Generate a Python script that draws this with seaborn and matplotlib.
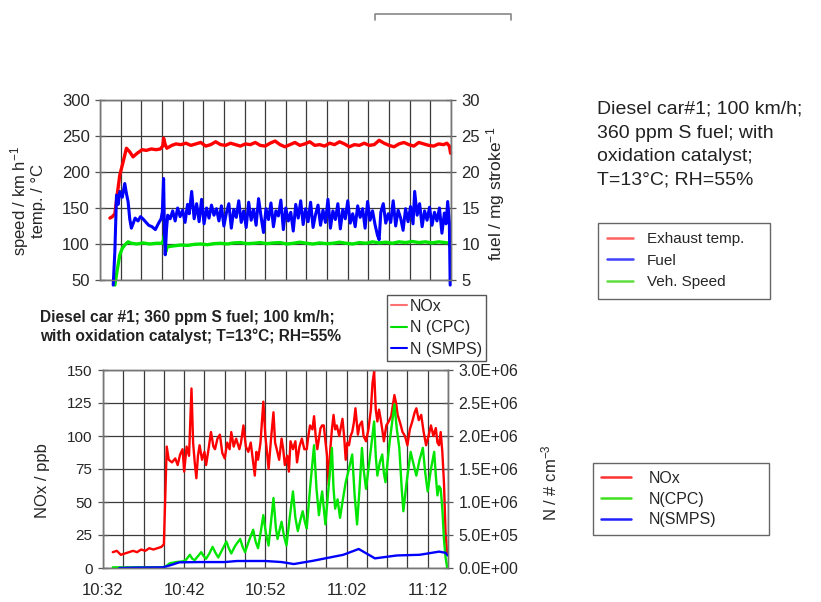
import numpy as np
import seaborn as sns
import matplotlib.pyplot as plt
from matplotlib.ticker import MultipleLocator, FuncFormatter
from matplotlib.lines import Line2D

# ---- top panel: minutes after 10:32 ----
temp_t = [1.2, 1.5, 1.8, 2.1, 2.4, 2.8, 3.2, 3.6, 4.0, 4.5, 5.1, 5.6, 6.2, 6.8, 7.3, 7.6, 7.7, 7.9, 8.1, 8.7,
          9.2, 9.8, 10.4, 11.0, 11.6, 12.2, 12.8, 13.4, 14.0, 14.6, 15.2, 15.8, 16.4, 17.0, 17.6, 18.2, 18.8,
          19.4, 20.0, 20.6, 21.2, 21.8, 22.4, 23.0, 23.6, 24.2, 24.8, 25.4, 26.0, 26.6, 27.2, 27.8, 28.4, 29.0,
          29.6, 30.2, 30.8, 31.4, 32.0, 32.6, 33.2, 33.8, 34.4, 35.0, 35.6, 36.2, 36.8, 37.4, 38.0, 38.6, 39.2,
          39.8, 40.4, 41.0, 41.6, 42.0, 42.3, 42.45]
temp_v = [136, 138, 142, 170, 196, 214, 233, 228, 221, 226, 231, 230, 232, 231, 232, 236, 247, 238, 233, 237,
          239, 238, 240, 237, 239, 241, 236, 238, 242, 238, 237, 240, 238, 236, 239, 238, 241,
          237, 236, 240, 243, 238, 235, 238, 241, 237, 239, 242, 237, 238, 236, 240, 238, 242,
          239, 235, 238, 237, 240, 237, 238, 244, 240, 237, 235, 239, 241, 238, 236, 241, 239,
          237, 236, 239, 238, 240, 236, 226]

fuel_t = [1.6, 1.8, 2.0, 2.2, 2.4, 2.7, 3.0, 3.2, 3.4, 3.6, 3.8, 4.0, 4.25, 4.6, 4.9, 5.2, 5.5, 5.9, 6.3, 6.7,
          7.1, 7.4, 7.55, 7.7, 7.8, 7.9, 8.05, 8.2, 8.5, 8.8, 9.1, 9.4, 9.7, 10.0, 10.3, 10.6, 10.8, 11.1,
          11.4, 11.7, 12.0, 12.3, 12.6, 12.9, 13.2, 13.5, 13.8, 14.1, 14.4, 14.7, 15.0, 15.3, 15.6, 15.9,
          16.2, 16.5, 16.8, 17.1, 17.4, 17.7, 18.0, 18.3, 18.6, 18.9, 19.2, 19.5, 19.8, 20.1, 20.4, 20.7,
          21.0, 21.3, 21.6, 21.9, 22.2, 22.5, 22.8, 23.1, 23.4, 23.7, 24.0, 24.3, 24.6, 24.9, 25.2, 25.5,
          25.8, 26.1, 26.4, 26.7, 27.0, 27.3, 27.6, 27.9, 28.2, 28.5, 28.8, 29.1, 29.4, 29.7, 30.0, 30.3,
          30.6, 30.9, 31.2, 31.5, 31.8, 32.1, 32.4, 32.7, 33.0, 33.3, 33.6, 33.8, 34.0, 34.3, 34.6, 34.9,
          35.2, 35.5, 35.8, 36.1, 36.4, 36.7, 37.0, 37.3, 37.6, 37.9, 38.1, 38.4, 38.7, 39.0, 39.3, 39.6,
          39.9, 40.2, 40.5, 40.8, 41.1, 41.4, 41.7, 41.9, 42.1, 42.3, 42.4]
fuel_v = [4.3, 9.0, 16.8, 15.5, 17.3, 16.5, 18.4, 17.0, 15.9, 13.5, 12.2, 12.8, 13.6, 13.2, 13.8, 13.5, 13.1, 12.6, 12.4, 12.0,
          12.9, 13.5, 14.5, 19.1, 12.0, 8.5, 12.0, 14.0, 13.5, 14.6, 13.2, 15.0, 13.8, 14.7, 13.0, 15.5, 14.2, 17.3,
          13.5, 15.6, 13.1, 16.2, 12.8, 15.0, 13.6, 15.4, 14.0, 14.9, 13.2, 15.3, 12.5, 14.3, 15.6, 12.2,
          14.8, 13.7, 16.0, 13.0, 14.6, 12.3, 15.8, 13.3, 14.8, 12.6, 16.3, 13.8, 11.6, 14.9, 13.4, 15.7,
          12.4, 14.6, 13.9, 16.1, 12.0, 15.0, 13.2, 14.4, 11.8, 15.5, 13.6, 16.0, 12.7, 14.9, 13.1, 15.8,
          12.3, 14.1, 15.4, 12.6, 14.7, 13.0, 16.2, 12.2, 14.6, 13.4, 15.6, 12.1, 14.8, 13.5, 16.0, 12.9,
          14.2, 12.4, 15.3, 13.7, 14.9, 12.2, 15.9, 13.3, 14.6, 12.7, 11.2, 10.6, 14.4, 15.6, 12.9, 14.2,
          13.0, 16.0, 12.5, 14.7, 13.6, 11.9, 14.9, 13.1, 15.2, 12.8, 17.3, 14.0, 15.6, 12.4, 14.6, 13.3,
          15.1, 12.6, 14.4, 13.2, 15.0, 11.5, 14.3, 12.8, 15.9, 13.0, 4.3]

speed_t = [1.8, 2.1, 2.4, 2.7, 3.0, 3.4, 3.8, 4.5, 5.2, 6.0, 6.8, 7.5, 7.7, 7.8, 7.95, 8.1, 8.3, 9.0, 9.8, 10.6,
           11.4, 12.2, 13.0, 13.8, 14.6, 15.4, 16.2, 17.0, 17.8, 18.6, 19.4, 20.2, 21.0, 21.8, 22.6, 23.4,
           24.2, 25.0, 25.8, 26.6, 27.4, 28.2, 29.0, 29.8, 30.6, 31.4, 32.2, 33.0, 33.8, 34.6, 35.4, 36.2,
           37.0, 37.8, 38.6, 39.4, 40.2, 41.0, 41.8, 42.3, 42.45]
speed_v = [43, 65, 85, 94, 98.6, 103, 101, 100, 101.5, 100, 101, 101, 106, 112, 89, 95, 96.3, 97.5, 98.6, 98,
           99.5, 100, 99, 100.5, 101, 100, 101.5, 102, 100.5, 101, 102, 100.5, 101.5, 102, 100, 101,
           102.5, 101, 100, 101.5, 100.5, 101, 102.5, 101, 100, 102, 101, 103, 101.5, 102.5, 101, 103,
           102, 103.5, 102, 103, 101.5, 103, 102, 101, 94]

# ---- bottom panel ----
nox_t = [1.2, 1.7, 2.2, 2.7, 3.2, 3.7, 4.2, 4.7, 5.2, 5.7, 6.2, 6.7, 7.2, 7.5, 7.7, 7.85, 8.1, 8.5, 8.9, 9.2,
         9.5, 9.8, 10.0, 10.3, 10.6, 10.9, 11.1, 11.3, 11.5, 11.7, 11.9, 12.2, 12.5, 12.7, 13.0, 13.3, 13.6,
         13.8, 14.1, 14.4, 14.7, 15.0, 15.3, 15.6, 15.8, 16.1, 16.4, 16.8, 17.0, 17.3, 17.6, 17.9, 18.2,
         18.5, 18.7, 18.9, 19.1, 19.4, 19.75, 20.0, 20.2, 20.4, 20.7, 21.0, 21.2, 21.4, 21.7, 22.0, 22.2,
         22.4, 22.7, 22.9, 23.1, 23.4, 23.7, 23.9, 24.2, 24.5, 24.8, 25.1, 25.3, 25.5, 25.8, 26.0, 26.2,
         26.4, 26.6, 26.8, 27.0, 27.2, 27.4, 27.6, 27.8, 28.0, 28.2, 28.4, 28.6, 28.8, 29.1, 29.5, 29.7,
         29.9, 30.1, 30.3, 30.5, 30.7, 30.9, 31.1, 31.4, 31.6, 31.9, 32.1, 32.4, 32.7, 33.0, 33.2, 33.4,
         33.6, 33.8, 34.0, 34.2, 34.4, 34.6, 34.9, 35.2, 35.5, 35.9, 36.1, 36.3, 36.6, 36.9, 37.2, 37.5,
         37.8, 38.1, 38.4, 38.6, 38.9, 39.2, 39.5, 39.8, 40.1, 40.4, 40.7, 41.0, 41.2, 41.4, 41.6, 41.8,
         42.0, 42.2, 42.4]
nox_v = [12, 13, 10, 11, 12, 13, 12, 14, 13, 15, 14, 15, 16, 18, 60, 92, 82, 80, 83, 78,
         86, 90, 73, 92, 85, 136, 95, 80, 68, 85, 93, 82, 88, 78, 90, 103, 92,
         90, 98, 101, 87, 83, 95, 90, 103, 92, 98, 90, 95, 108, 92, 88, 95,
         80, 70, 88, 82, 95, 126, 100, 88, 75, 98, 118, 95, 90, 82, 98, 90,
         78, 85, 73, 96, 90, 96, 80, 92, 98, 90, 90, 100, 108, 105, 115, 100,
         90, 98, 106, 108, 108, 96, 85, 63, 90, 105, 116, 105, 108, 100, 113, 100,
         82, 95, 93, 100, 103, 110, 121, 101, 108, 111, 100, 96, 105, 120, 140, 149,
         120, 111, 120, 113, 105, 96, 108, 111, 115, 131, 125, 116, 110, 103, 100, 93,
         105, 111, 118, 121, 112, 116, 103, 93, 100, 108, 100, 106, 95, 93, 103, 88,
         65, 27, 10]

cpc_t = [1.2, 3.0, 5.0, 7.4, 7.8, 8.2, 9.0, 9.8, 10.2, 10.7, 11.0, 11.3, 11.7, 12.1, 12.4, 12.7, 13.1, 13.5,
         13.9, 14.2, 14.7, 15.2, 15.5, 15.8, 16.3, 16.9, 17.2, 17.5, 18.0, 18.5, 18.8, 19.1, 19.4, 19.75,
         20.1, 20.4, 20.7, 21.0, 21.3, 21.5, 21.8, 22.0, 22.3, 22.6, 23.0, 23.4, 23.7, 24.0, 24.3, 24.6,
         24.9, 25.1, 25.5, 26.0, 26.3, 26.6, 26.8, 27.0, 27.2, 27.4, 27.8, 28.2, 28.4, 28.6, 28.9, 29.2,
         29.5, 29.9, 30.3, 30.7, 31.0, 31.3, 31.6, 31.9, 32.1, 32.4, 32.9, 33.4, 33.6, 33.8, 34.1, 34.4,
         34.6, 34.8, 35.3, 35.9, 36.2, 36.5, 36.8, 37.0, 37.4, 37.9, 38.2, 38.6, 39.0, 39.4, 39.7, 40.0,
         40.4, 40.8, 41.0, 41.2, 41.4, 41.6, 41.8, 42.0, 42.2, 42.4]
cpc_millions = [0.01, 0.01, 0.012, 0.01, 0.03, 0.07, 0.09, 0.10, 0.12, 0.20, 0.14, 0.12, 0.18, 0.24, 0.18, 0.14, 0.22, 0.32,
                0.22, 0.16, 0.28, 0.40, 0.30, 0.22, 0.34, 0.44, 0.32, 0.24, 0.42, 0.58, 0.40, 0.30, 0.52, 0.80,
                0.50, 0.34, 0.70, 1.06, 0.60, 0.44, 0.60, 0.70, 0.48, 0.34, 0.76, 1.16, 0.76, 0.56, 0.72, 0.86,
                0.68, 0.60, 1.20, 1.86, 1.20, 0.80, 1.00, 1.16, 0.90, 0.66, 1.24, 1.82, 1.20, 0.90, 1.04, 0.76,
                1.00, 1.30, 1.50, 1.72, 1.10, 0.66, 1.20, 1.82, 1.50, 1.20, 1.70, 2.22, 1.70, 1.40, 1.60, 1.72,
                1.44, 1.30, 1.90, 2.48, 2.10, 1.82, 1.20, 0.86, 1.30, 1.76, 1.60, 1.40, 1.64, 1.82, 1.44, 1.16,
                1.50, 1.76, 1.40, 1.10, 1.24, 1.20, 0.90, 0.44, 0.16, 0.0]

smps_t = [2.0, 4.0, 7.4, 8.5, 9.4, 12.0, 15.0, 16.5, 20.0, 22.0, 23.5, 25.9, 29.6, 31.5, 33.5, 36.2, 39.0,
          41.4, 42.2, 42.45]
smps_millions = [0.0, 0.006, 0.01, 0.05, 0.086, 0.09, 0.09, 0.106, 0.106, 0.09, 0.06, 0.11, 0.20, 0.288, 0.146,
                 0.19, 0.20, 0.248, 0.23, 0.19]

RED, GREEN, BLUE = "#ff0000", "#00e600", "#0000ff"
GRID = "#3a3a3a"

sns.set_style("white")
plt.rcParams["font.family"] = ["Liberation Sans", "DejaVu Sans"]
plt.rcParams["mathtext.default"] = "regular"

fig = plt.figure(figsize=(8.21, 6.02), dpi=100)
ax1 = fig.add_axes([100 / 821, 1 - 280 / 602, 351 / 821, 180 / 602])
ax1r = ax1.twinx()
ax2 = fig.add_axes([103 / 821, 1 - 568 / 602, 345 / 821, 198 / 602])
ax2r = ax2.twinx()


def style_axes(ax, axr):
    ax.set_xlim(0, 42.5)
    ax.xaxis.set_major_locator(MultipleLocator(2.5))
    ax.grid(True, color=GRID, linewidth=0.9)
    ax.set_axisbelow(True)
    for a in (ax, axr):
        for s in a.spines.values():
            s.set_color("#777777")
            s.set_linewidth(1.0)
        a.tick_params(direction="inout", length=7, width=0.9, color="#555555", pad=4)


# top chart
sns.lineplot(x=temp_t, y=temp_v, ax=ax1, color=RED, linewidth=2.4, estimator=None, sort=False, clip_on=False)
sns.lineplot(x=speed_t, y=speed_v, ax=ax1, color=GREEN, linewidth=2.4, estimator=None, sort=False, clip_on=False)
sns.lineplot(x=fuel_t, y=fuel_v, ax=ax1r, color=BLUE, linewidth=2.2, estimator=None, sort=False, clip_on=False)
style_axes(ax1, ax1r)
ax1.set_ylim(50, 300)
ax1.yaxis.set_major_locator(MultipleLocator(50))
ax1r.set_ylim(5, 30)
ax1r.yaxis.set_major_locator(MultipleLocator(5))
ax1.tick_params(labelbottom=False, labelsize=12)
ax1r.tick_params(labelsize=12)
ax1.set_ylabel("speed / km h$^{-1}$\ntemp. / °C", fontsize=12, linespacing=0.95)
ax1.yaxis.set_label_coords(-0.155, 0.44)
ax1r.set_ylabel("fuel / mg stroke$^{-1}$", fontsize=12.5)
ax1r.yaxis.set_label_coords(1.095, 0.48)

# bottom chart
sns.lineplot(x=nox_t, y=nox_v, ax=ax2, color=RED, linewidth=1.7, estimator=None, sort=False)
sns.lineplot(x=cpc_t, y=np.array(cpc_millions) * 1e6, ax=ax2r, color=GREEN, linewidth=1.7,
             estimator=None, sort=False)
sns.lineplot(x=smps_t, y=np.array(smps_millions) * 1e6, ax=ax2r, color=BLUE, linewidth=1.7,
             estimator=None, sort=False)
style_axes(ax2, ax2r)
ax2.set_ylim(0, 150)
ax2.yaxis.set_major_locator(MultipleLocator(25))
ax2r.set_ylim(0, 3.0e6)
ax2r.yaxis.set_major_locator(MultipleLocator(5e5))
ax2r.yaxis.set_major_formatter(FuncFormatter(lambda v, p: f"{v:.1E}"))


def clock(v, p):
    if abs(v / 10 - round(v / 10)) > 1e-6:
        return ""
    m = 10 * 60 + 32 + int(round(v))
    return f"{m // 60}:{m % 60:02d}"


ax2.xaxis.set_major_formatter(FuncFormatter(clock))
ax2.tick_params(axis="y", labelsize=11)
ax2.tick_params(axis="x", labelsize=12, pad=7)
ax2r.tick_params(labelsize=11.5)
ax2.set_ylabel("NOx / ppb", fontsize=12)
ax2.yaxis.set_label_coords(-0.155, 0.44)
ax2r.set_ylabel("N / # cm$^{-3}$", fontsize=12)
ax2r.yaxis.set_label_coords(1.265, 0.43)
for a in (ax1, ax1r, ax2, ax2r):
    a.set_xlabel("")

# notes
fig.text(597 / 821, 1 - 101 / 602, "Diesel car#1; 100 km/h;\n360 ppm S fuel; with\noxidation catalyst;\nT=13°C; RH=55%",
         fontsize=14, va="top", ha="left", linespacing=1.5, color="#222222")
fig.text(40 / 821, 1 - 310 / 602, "Diesel car #1; 360 ppm S fuel; 100 km/h;\nwith oxidation catalyst; T=13°C; RH=55%",
         fontsize=11.2, fontweight="bold", va="top", ha="left", linespacing=1.25, color="#222222")

# legends
leg_kw = dict(frameon=True, fancybox=False, framealpha=1, edgecolor="#666666", borderaxespad=0,
              mode="expand", loc="upper left")
top_handles = [Line2D([], [], color="#ff6060", lw=1.8), Line2D([], [], color="#4040ff", lw=1.8),
               Line2D([], [], color="#60e040", lw=1.8)]
lg1 = fig.legend(top_handles, ["Exhaust temp.", "Fuel", "Veh. Speed"],
                 bbox_to_anchor=(598 / 821, 1 - 297 / 602, 172 / 821, 74 / 602), fontsize=11,
                 handlelength=1.7, handletextpad=0.9, labelspacing=0.5, borderpad=0.6, **leg_kw)
bot_handles = [Line2D([], [], color="#ff3030", lw=1.8), Line2D([], [], color="#40e020", lw=1.8),
               Line2D([], [], color="#2020ff", lw=1.8)]
lg2 = fig.legend(bot_handles, ["NOx", "N(CPC)", "N(SMPS)"],
                 bbox_to_anchor=(593 / 821, 1 - 533 / 602, 176 / 821, 70 / 602), fontsize=11.5,
                 handlelength=1.9, handletextpad=1.1, labelspacing=0.35, borderpad=0.5, **leg_kw)
mid_handles = [Line2D([], [], color="#ff7070", lw=1.5), Line2D([], [], color="#00dd00", lw=1.5),
               Line2D([], [], color="#0000ff", lw=1.5)]
lg3 = fig.legend(mid_handles, ["NOx", "N (CPC)", "N (SMPS)"], loc="upper left",
                 bbox_to_anchor=(387 / 821, 1 - 295 / 602), fontsize=11.5, handlelength=1.0,
                 borderpad=0.25, handletextpad=0.2, labelspacing=0.4, frameon=True, fancybox=False,
                 framealpha=1, edgecolor="#555555", borderaxespad=0)

# bracket mark at the top
fig.add_artist(Line2D([375 / 821, 375 / 821, 511 / 821, 511 / 821],
                      [1 - 20 / 602, 1 - 14 / 602, 1 - 14 / 602, 1 - 20 / 602],
                      color="#888888", lw=1.2))

fig.savefig("out.png", dpi=100)
